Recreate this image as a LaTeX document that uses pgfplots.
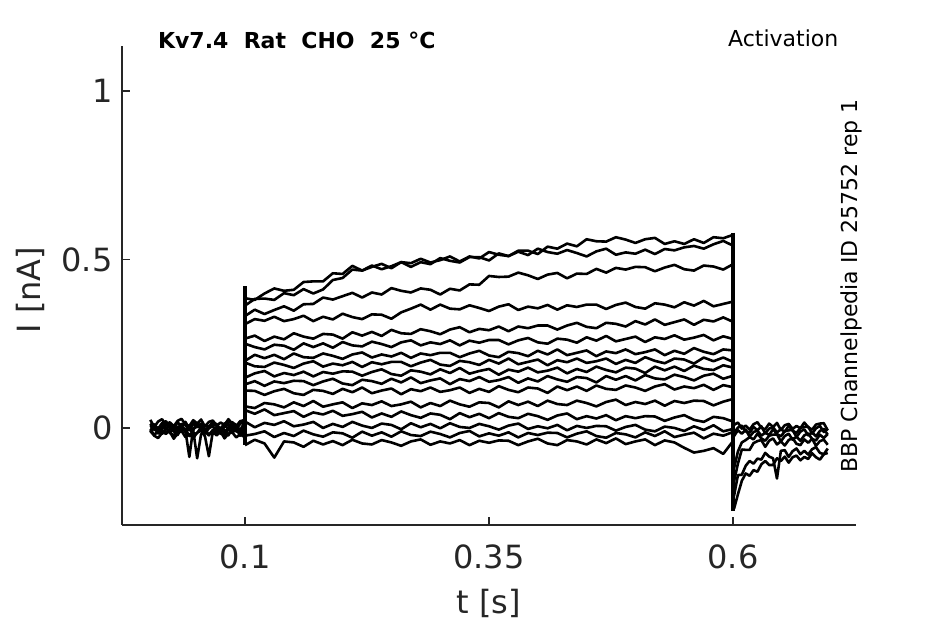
\documentclass[border=0pt]{standalone}
\usepackage{fontspec}
\setmainfont{DejaVu Sans}
\usepackage{pgfplots}
\pgfplotsset{compat=1.18}
\usepackage{pgfplotstable}
\definecolor{axgray}{HTML}{262626}

% step segment (0.1 s to 0.6 s), currents in nA
\pgfplotstableread{
x A B C D E F G H I J K L M N O P
0.10 0.385 0.363 0.332 0.308 0.265 0.250 0.199 0.194 0.149 0.129 0.111 0.064 0.053 0.019 -0.023 -0.051
0.11 0.380 0.383 0.351 0.323 0.274 0.240 0.217 0.183 0.162 0.139 0.110 0.059 0.042 0.002 -0.018 -0.035
0.12 0.399 0.384 0.338 0.318 0.258 0.233 0.207 0.181 0.169 0.125 0.098 0.074 0.055 0.015 -0.010 -0.046
0.13 0.414 0.380 0.350 0.330 0.271 0.247 0.217 0.194 0.153 0.138 0.109 0.070 0.038 0.009 -0.027 -0.088
0.14 0.407 0.400 0.361 0.317 0.263 0.244 0.204 0.187 0.163 0.133 0.116 0.061 0.044 0.020 -0.015 -0.040
0.15 0.410 0.394 0.348 0.323 0.281 0.232 0.221 0.178 0.157 0.140 0.103 0.076 0.050 0.005 -0.024 -0.043
0.16 0.433 0.412 0.367 0.333 0.271 0.251 0.210 0.191 0.167 0.139 0.098 0.065 0.033 0.010 -0.008 -0.056
0.17 0.435 0.399 0.368 0.317 0.265 0.240 0.208 0.198 0.153 0.127 0.113 0.080 0.046 0.018 -0.019 -0.038
0.18 0.435 0.411 0.387 0.330 0.279 0.251 0.221 0.182 0.166 0.138 0.110 0.063 0.040 0.000 -0.026 -0.049
0.19 0.459 0.439 0.381 0.322 0.277 0.238 0.214 0.191 0.161 0.146 0.101 0.070 0.051 0.012 -0.013 -0.039
0.20 0.457 0.445 0.391 0.339 0.265 0.255 0.205 0.186 0.168 0.132 0.116 0.076 0.036 0.003 -0.016 -0.051
0.21 0.481 0.470 0.401 0.329 0.284 0.245 0.218 0.196 0.167 0.127 0.106 0.059 0.041 0.018 -0.029 -0.035
0.22 0.467 0.467 0.387 0.323 0.274 0.242 0.224 0.181 0.155 0.143 0.120 0.073 0.048 0.007 -0.011 -0.046
0.23 0.478 0.482 0.402 0.337 0.285 0.256 0.209 0.195 0.166 0.139 0.103 0.068 0.031 0.000 -0.023 -0.049
0.24 0.487 0.471 0.396 0.336 0.273 0.249 0.218 0.189 0.174 0.131 0.111 0.079 0.043 0.013 -0.013 -0.036
0.25 0.474 0.480 0.415 0.324 0.291 0.240 0.212 0.196 0.160 0.146 0.117 0.065 0.033 0.009 -0.026 -0.043
0.26 0.492 0.492 0.407 0.343 0.281 0.254 0.223 0.196 0.155 0.135 0.100 0.070 0.049 -0.004 -0.010 -0.053
0.27 0.489 0.478 0.402 0.354 0.279 0.260 0.208 0.183 0.171 0.150 0.115 0.078 0.038 0.014 -0.021 -0.040
0.28 0.502 0.492 0.414 0.366 0.293 0.245 0.221 0.194 0.167 0.133 0.109 0.061 0.030 0.002 -0.024 -0.034
0.29 0.491 0.486 0.410 0.351 0.287 0.254 0.216 0.202 0.159 0.141 0.120 0.074 0.043 0.012 -0.011 -0.050
0.30 0.498 0.504 0.396 0.366 0.278 0.249 0.223 0.188 0.174 0.147 0.107 0.065 0.039 -0.001 -0.018 -0.040
0.31 0.509 0.496 0.413 0.354 0.292 0.260 0.223 0.184 0.163 0.130 0.112 0.081 0.026 0.014 -0.028 -0.046
0.32 0.494 0.491 0.408 0.352 0.299 0.245 0.210 0.199 0.178 0.145 0.120 0.070 0.044 0.003 -0.015 -0.036
0.33 0.509 0.507 0.426 0.364 0.284 0.259 0.221 0.195 0.161 0.139 0.104 0.063 0.032 0.000 -0.009 -0.051
0.34 0.503 0.507 0.425 0.356 0.294 0.253 0.229 0.187 0.169 0.151 0.116 0.076 0.042 0.012 -0.025 -0.038
0.35 0.522 0.497 0.451 0.347 0.290 0.261 0.215 0.202 0.175 0.137 0.107 0.074 0.029 0.005 -0.016 -0.044
0.36 0.514 0.518 0.448 0.360 0.301 0.261 0.210 0.191 0.158 0.142 0.124 0.061 0.044 -0.005 -0.023 -0.037
0.37 0.510 0.510 0.449 0.367 0.287 0.248 0.226 0.206 0.173 0.151 0.113 0.079 0.033 0.007 -0.013 -0.038
0.38 0.526 0.523 0.461 0.350 0.301 0.260 0.222 0.189 0.167 0.134 0.106 0.068 0.029 0.013 -0.028 -0.051
0.39 0.526 0.513 0.453 0.360 0.296 0.267 0.213 0.196 0.179 0.147 0.120 0.078 0.042 -0.003 -0.015 -0.040
0.40 0.516 0.532 0.442 0.355 0.304 0.254 0.229 0.203 0.165 0.138 0.117 0.065 0.035 0.005 -0.021 -0.032
0.41 0.538 0.522 0.455 0.365 0.304 0.250 0.218 0.186 0.170 0.154 0.104 0.081 0.024 -0.001 -0.014 -0.046
0.42 0.532 0.517 0.460 0.351 0.292 0.265 0.233 0.201 0.179 0.144 0.123 0.071 0.037 0.009 -0.015 -0.051
0.43 0.547 0.528 0.444 0.364 0.304 0.262 0.216 0.195 0.162 0.137 0.112 0.068 0.043 -0.007 -0.028 -0.036
0.44 0.539 0.519 0.458 0.359 0.312 0.253 0.223 0.206 0.175 0.151 0.123 0.081 0.026 0.006 -0.017 -0.040
0.45 0.560 0.509 0.457 0.366 0.300 0.269 0.230 0.193 0.166 0.148 0.110 0.074 0.035 0.000 -0.010 -0.049
0.46 0.554 0.524 0.472 0.366 0.296 0.259 0.213 0.198 0.182 0.135 0.126 0.064 0.028 0.006 -0.024 -0.034
0.47 0.553 0.532 0.461 0.353 0.312 0.273 0.227 0.206 0.172 0.154 0.116 0.077 0.038 0.005 -0.029 -0.045
0.48 0.566 0.514 0.475 0.365 0.309 0.257 0.222 0.190 0.165 0.143 0.113 0.084 0.023 -0.008 -0.015 -0.031
0.49 0.559 0.521 0.470 0.372 0.301 0.264 0.233 0.202 0.179 0.154 0.126 0.068 0.035 0.003 -0.019 -0.048
0.50 0.549 0.517 0.478 0.359 0.317 0.271 0.219 0.193 0.176 0.141 0.120 0.077 0.029 0.009 -0.028 -0.040
0.51 0.560 0.529 0.477 0.354 0.307 0.255 0.225 0.210 0.163 0.157 0.110 0.071 0.035 -0.005 -0.013 -0.034
0.52 0.564 0.516 0.465 0.370 0.322 0.269 0.233 0.199 0.182 0.147 0.123 0.081 0.034 -0.010 -0.024 -0.051
0.53 0.546 0.531 0.476 0.366 0.306 0.264 0.216 0.192 0.171 0.144 0.130 0.066 0.021 0.004 -0.010 -0.037
0.54 0.554 0.527 0.484 0.358 0.314 0.275 0.229 0.206 0.182 0.158 0.114 0.080 0.031 0.000 -0.027 -0.043
0.55 0.546 0.536 0.471 0.373 0.322 0.262 0.220 0.203 0.169 0.151 0.123 0.074 0.038 -0.009 -0.020 -0.059
0.56 0.560 0.540 0.467 0.363 0.306 0.268 0.237 0.191 0.185 0.141 0.118 0.081 0.024 0.005 -0.014 -0.073
0.57 0.549 0.532 0.482 0.377 0.321 0.276 0.226 0.209 0.175 0.155 0.128 0.080 0.018 -0.006 -0.031 -0.068
0.58 0.566 0.545 0.479 0.361 0.316 0.260 0.219 0.198 0.172 0.161 0.113 0.067 0.033 0.008 -0.017 -0.060
0.59 0.563 0.555 0.470 0.368 0.328 0.272 0.233 0.209 0.186 0.146 0.127 0.078 0.029 -0.010 -0.023 -0.077
0.60 0.573 0.541 0.486 0.375 0.315 0.264 0.230 0.196 0.179 0.155 0.121 0.086 0.019 -0.003 -0.012 -0.039
}\stepdata

% baseline before the step
\pgfplotstableread{
x Q1 Q2 Q3 Q4 Q5 Q6 Q7 Q8
0.003 0.024 0.001 0.012 -0.007 -0.005 -0.009 0.013 -0.013
0.007 0.003 0.010 -0.005 0.005 -0.020 -0.023 0.010 0.001
0.011 0.019 -0.002 -0.009 -0.016 -0.011 -0.030 -0.005 -0.016
0.015 0.026 0.014 0.008 -0.002 -0.018 -0.015 0.002 -0.009
0.019 0.008 0.020 -0.002 0.002 -0.001 -0.012 0.016 -0.018
0.023 0.017 0.003 0.010 -0.013 -0.015 -0.011 -0.001 -0.003
0.027 0.005 -0.001 -0.011 -0.004 -0.022 -0.032 0.006 -0.007
0.031 0.021 0.016 0.003 -0.011 -0.007 -0.016 -0.003 -0.021
0.035 0.027 0.006 0.007 0.006 -0.004 -0.009 0.012 0.000
0.039 0.010 0.018 -0.008 -0.008 -0.003 -0.027 0.008 -0.012
0.043 0.006 -0.003 0.001 -0.086 -0.024 -0.018 -0.006 -0.002
0.047 0.023 0.011 -0.006 0.000 -0.008 -0.030 0.015 -0.019
0.051 0.013 0.015 0.011 0.003 -0.090 -0.014 0.003 -0.015
0.055 0.025 0.000 -0.003 0.004 -0.019 -0.008 0.013 0.002
0.059 0.004 0.009 -0.010 -0.017 -0.010 -0.025 -0.004 -0.004
0.063 0.018 0.002 0.005 -0.001 -0.022 -0.084 0.000 -0.020
0.067 0.022 0.019 0.008 0.006 -0.006 -0.012 0.017 -0.008
0.071 0.007 0.005 0.009 -0.012 0.000 -0.022 0.011 -0.017
0.075 0.016 -0.002 -0.012 -0.003 -0.017 -0.010 -0.005 0.001
0.079 0.009 0.013 0.004 -0.015 -0.021 -0.031 0.007 -0.006
0.083 0.026 0.016 0.011 0.001 -0.004 -0.017 -0.002 -0.022
0.087 0.012 0.017 -0.007 0.007 -0.014 -0.013 0.016 -0.001
0.091 0.005 -0.004 0.002 -0.010 -0.002 -0.028 0.009 -0.002
0.095 0.020 0.012 -0.010 -0.014 -0.023 -0.019 -0.007 -0.005
0.099 0.023 0.019 0.006 0.003 -0.009 -0.026 0.014 -0.020
}\predata

% tail after the step
\pgfplotstableread{
x R1 R2 R3 R4 R5 S1 S2
0.601 0.009 -0.015 -0.024 -0.120 -0.159 -0.240 -0.202
0.605 0.016 0.001 -0.007 -0.070 -0.106 -0.197 -0.140
0.609 -0.002 0.007 -0.017 -0.043 -0.064 -0.157 -0.139
0.613 0.007 -0.010 -0.005 -0.036 -0.065 -0.135 -0.112
0.617 -0.005 -0.014 -0.026 -0.027 -0.065 -0.142 -0.098
0.621 0.011 0.003 -0.012 -0.034 -0.045 -0.125 -0.106
0.625 0.017 -0.007 -0.008 -0.017 -0.039 -0.130 -0.091
0.629 0.000 0.005 -0.023 -0.031 -0.036 -0.108 -0.094
0.633 -0.004 -0.016 -0.014 -0.038 -0.056 -0.098 -0.074
0.637 0.013 -0.002 -0.021 -0.023 -0.038 -0.110 -0.085
0.641 0.003 0.002 -0.004 -0.020 -0.031 -0.110 -0.090
0.645 0.015 -0.013 -0.018 -0.019 -0.049 -0.090 -0.150
0.649 -0.006 -0.004 -0.025 -0.040 -0.040 -0.098 -0.068
0.653 0.008 -0.011 -0.010 -0.024 -0.052 -0.085 -0.066
0.657 0.012 0.006 -0.007 -0.017 -0.036 -0.103 -0.086
0.661 -0.003 -0.008 -0.006 -0.035 -0.030 -0.087 -0.069
0.665 0.006 -0.015 -0.027 -0.026 -0.047 -0.082 -0.061
0.669 -0.001 0.000 -0.011 -0.038 -0.051 -0.096 -0.078
0.673 0.016 0.003 -0.004 -0.022 -0.034 -0.086 -0.068
0.677 0.002 0.004 -0.022 -0.016 -0.044 -0.092 -0.079
0.681 -0.005 -0.017 -0.013 -0.033 -0.032 -0.075 -0.063
0.685 0.010 -0.001 -0.025 -0.037 -0.053 -0.087 -0.057
0.689 0.013 0.006 -0.009 -0.020 -0.039 -0.094 -0.074
0.693 0.014 -0.012 -0.003 -0.030 -0.035 -0.078 -0.078
0.697 -0.007 -0.003 -0.020 -0.018 -0.050 -0.074 -0.061
}\postdata

\pgfplotsset{trace/.style={black, line width=1.3pt, line join=round, mark=none}}

\begin{document}
\begin{tikzpicture}
\path[use as bounding box] (-61pt,-49.5pt) rectangle (411.5pt,262.5pt);
\begin{axis}[
  at={(0pt,0pt)}, anchor=south west,
  scale only axis, width=367pt, height=239.5pt,
  xmin=-0.026, xmax=0.726, ymin=-0.288, ymax=1.1335,
  axis x line*=bottom, axis y line*=left,
  axis line style={axgray, line width=0.6pt},
  tick align=inside, major tick length=3.8pt,
  tick style={axgray, line width=0.6pt},
  xtick={0.1,0.35,0.6}, xticklabels={0.1,0.35,0.6},
  ytick={0,0.5,1}, yticklabels={0,0.5,1},
  /pgf/number format/assume math mode=true,
  ticklabel style={font=\fontsize{16}{19}\selectfont, text=axgray},
  xticklabel style={yshift=-6.2pt},
  yticklabel style={xshift=-1.2pt},
]
\pgfplotsinvokeforeach{Q1,Q2,Q3,Q4,Q5,Q6,Q7,Q8}{\addplot[trace] table[x=x,y=#1]{\predata};}
\pgfplotsinvokeforeach{A,B,C,D,E,F,G,H,I,J,K,L,M,N,O,P}{\addplot[trace] table[x=x,y=#1]{\stepdata};}
\pgfplotsinvokeforeach{R1,R2,R3,R4,R5,S1,S2}{\addplot[trace] table[x=x,y=#1]{\postdata};}
\addplot[trace, line width=1.6pt] coordinates {(0.1,-0.05) (0.1,0.42)};
\addplot[trace, line width=1.6pt] coordinates {(0.6,0.58) (0.6,-0.245)};
\end{axis}
\node[font=\fontsize{16}{19}\selectfont, text=axgray] at (183.5pt,-39pt) {t [s]};
\node[font=\fontsize{16}{19}\selectfont, text=axgray, rotate=90] at (-46pt,117.5pt) {I [nA]};
\node[font=\fontsize{11}{13}\selectfont\bfseries, anchor=west] at (14.5pt,242.5pt) {Kv7.4~~Rat~~CHO~~25~°C};
\node[font=\fontsize{11}{13}\selectfont, anchor=east] at (361.7pt,243.5pt) {Activation};
\node[font=\fontsize{11}{13}\selectfont, rotate=90] at (364.5pt,119.5pt) {BBP Channelpedia ID 25752 rep 1};
\end{tikzpicture}
\end{document}
